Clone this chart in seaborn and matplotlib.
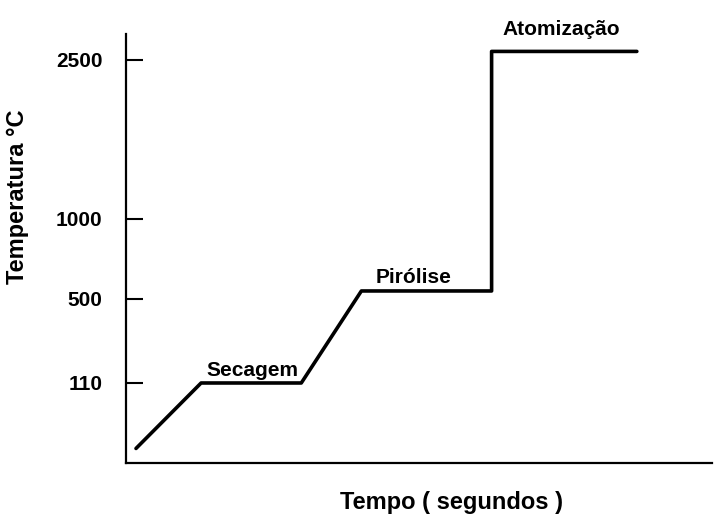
import matplotlib.pyplot as plt
import numpy as np
import pandas as pd
import seaborn as sns

# Programa de temperatura do forno de grafite
tempo = [2, 15, 35, 47, 73, 73, 102]
temperatura = [20, 110, 110, 550, 550, 2580, 2580]

yticks = [110, 500, 1000, 2500]
ytick_labels = ["110", "500", "1000", "2500"]

etapas = ["Secagem", "Pirólise", "Atomização"]
etapas_x = [15, 47, 73]
etapas_y = [110, 550, 2580]

# Eixo de temperatura não linear (escala do desenho original)
TEMP_ANCHORS = [0, 110, 500, 1000, 2500, 3000]
LEVEL_ANCHORS = [0, 80, 164, 244, 403, 456]


def _fwd(v):
    return np.interp(v, TEMP_ANCHORS, LEVEL_ANCHORS)


def _inv(v):
    return np.interp(v, LEVEL_ANCHORS, TEMP_ANCHORS)


df = pd.DataFrame({"tempo": tempo, "temperatura": temperatura})

sns.set_theme(style="white")
plt.rcParams["font.family"] = ["Liberation Sans", "DejaVu Sans"]
plt.rcParams["text.color"] = "black"
plt.rcParams["axes.labelcolor"] = "black"

fig = plt.figure(figsize=(7.17, 5.14), dpi=100)
ax = fig.add_axes([0.1757, 0.0992, 0.8173, 0.8348])

sns.lineplot(
    data=df, x="tempo", y="temperatura", sort=False, estimator=None,
    color="black", linewidth=2.6, ax=ax,
)

ax.set_yscale("function", functions=(_fwd, _inv))
ax.set_xlim(0, 117)
ax.set_ylim(0, 2745)

ax.set_xticks([])
ax.set_yticks(yticks)
ax.set_yticklabels(ytick_labels)
ax.tick_params(axis="y", left=True, direction="in", length=12, width=1.5,
               pad=17, labelsize=15, colors="black")
for lab in ax.get_yticklabels():
    lab.set_fontweight("bold")

for s in ["top", "right"]:
    ax.spines[s].set_visible(False)
for s in ["left", "bottom"]:
    ax.spines[s].set_color("black")
    ax.spines[s].set_linewidth(1.6)

ax.set_xlabel("Tempo ( segundos )", fontsize=17, fontweight="bold")
ax.set_ylabel("Temperatura °C", fontsize=17, fontweight="bold")
ax.xaxis.set_label_coords(0.556, -0.065)
ax.yaxis.set_label_coords(-0.165, 0.62)

offsets = [(4, 5), (10, 6), (8, 12)]
for nome, x, y, off in zip(etapas, etapas_x, etapas_y, offsets):
    ax.annotate(nome, xy=(x, y), xytext=off, textcoords="offset points",
                ha="left", va="baseline", fontsize=15, fontweight="bold",
                color="black")

fig.savefig("out.png", dpi=100)
